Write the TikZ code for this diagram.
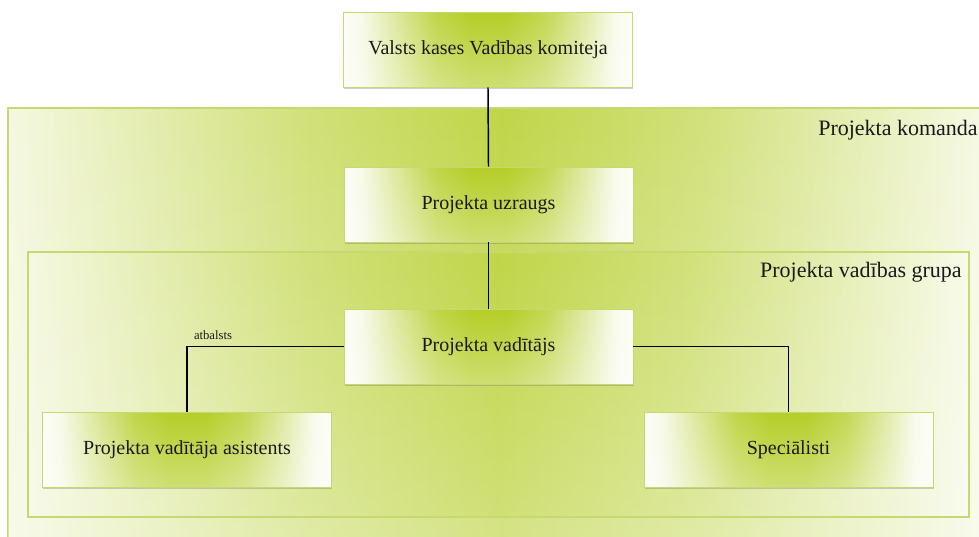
\documentclass[tikz,border=0pt]{standalone}
\usepackage{fontspec}
\setmainfont{Liberation Serif}[Ligatures=TeX]
\newfontfamily\orgfont{Liberation Serif}
\usetikzlibrary{shadows,fadings}

\definecolor{leaf}{RGB}{182,206,40}
\definecolor{rim}{RGB}{198,217,112}
\definecolor{inktext}{RGB}{26,26,26}

% bell-shaped green band across a box, pale towards both sides
\pgfdeclarehorizontalshading{boxband}{100bp}{%
  color(0bp)=(leaf!4!white); color(25bp)=(leaf!4!white); color(28bp)=(leaf!10!white);
  color(34bp)=(leaf!45!white); color(41bp)=(leaf!85!white); color(47bp)=(leaf);
  color(53bp)=(leaf); color(60bp)=(leaf!80!white); color(67bp)=(leaf!40!white);
  color(72bp)=(leaf!8!white); color(75bp)=(leaf!4!white); color(100bp)=(leaf!4!white)}

% broad band for the two group frames
\pgfdeclarehorizontalshading{frameband}{100bp}{%
  color(0bp)=(leaf!14!white); color(25bp)=(leaf!14!white);
  color(40bp)=(leaf!62!white); color(50bp)=(leaf!85!white);
  color(60bp)=(leaf!62!white); color(75bp)=(leaf!10!white);
  color(100bp)=(leaf!10!white)}

% white wash that grows towards the bottom edge
\tikzfading[name=washdown, top color=transparent!100, bottom color=transparent!0]

\tikzset{
  orgbox/.style={shading=boxband, draw=rim, line width=0.6pt,
    minimum width=216.75pt, minimum height=56.25pt, inner sep=0pt,
    font=\orgfont\fontsize{15}{18}\selectfont, text=inktext,
    drop shadow={shadow xshift=0.6pt, shadow yshift=-1.3pt, opacity=0.3, fill=black!60},
    path picture={\fill[white, path fading=washdown, fill opacity=0.35]
      (path picture bounding box.south west) rectangle (path picture bounding box.north east);}},
  groupframe/.style={shading=frameband, draw=rim, line width=0.8pt},
  grouplabel/.style={font=\orgfont\fontsize{16.5}{19}\selectfont, text=inktext, inner sep=0pt},
  link/.style={draw=black, line width=1.1pt},
  linklabel/.style={font=\orgfont\fontsize{9.5}{11}\selectfont, text=inktext, inner sep=0pt}
}

\begin{document}
\begin{tikzpicture}[x=0.75pt,y=-0.75pt]
  \useasboundingbox (0,0) rectangle (979,536);
  \clip (0,0) rectangle (979,536);

  % outer frame (project team)
  \path[groupframe] (8,108) rectangle (995,560);
  \fill[white, path fading=washdown, fill opacity=0.35] (8,108) rectangle (995,560);
  \node[grouplabel, anchor=east] (teamlbl) at (978,130) {Projekta komanda};

  % inner frame (project management group)
  \path[groupframe] (28,252) rectangle (969,517);
  \fill[white, path fading=washdown, fill opacity=0.25] (28.5,252.5) rectangle (968.5,516.5);
  \draw[rim, line width=0.8pt] (28,252) rectangle (969,517);
  \node[grouplabel, anchor=east] (grouplbl) at (962,272) {Projekta vadības grupa};

  % boxes
  \node[orgbox] (board)   at (488,49.5)  {Valsts kases Vadības komiteja};
  \node[orgbox] (overseer) at (488.5,204.5) {Projekta uzraugs};
  \node[orgbox] (manager) at (488.5,346.5) {Projekta vadītājs};
  \node[orgbox] (assist)  at (187,449.5) {Projekta vadītāja asistents};
  \node[orgbox] (experts) at (788.5,449.5) {Speciālisti};

  % connectors
  \draw[link] (board.south) -- (overseer.north);
  \draw[link] (overseer.south) -- (manager.north);
  \draw[link] (manager.west) -| (assist.north);
  \draw[link] (manager.east) -| (experts.north);
  \node[linklabel] (support) at (213,335) {atbalsts};
\end{tikzpicture}
\end{document}
